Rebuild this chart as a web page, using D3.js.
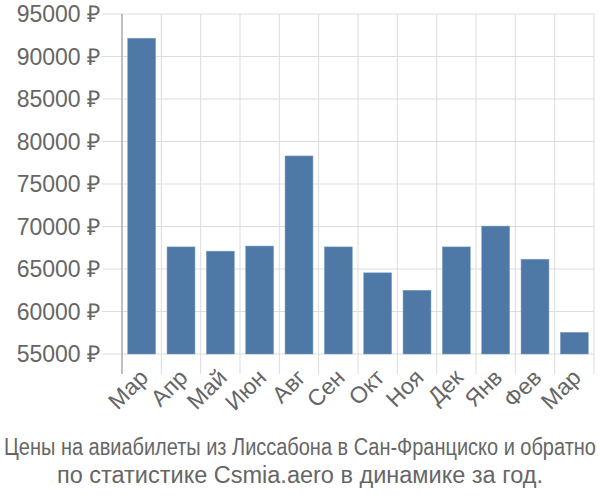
<!DOCTYPE html>
<html><head><meta charset="utf-8">
<script src="https://cdn.jsdelivr.net/npm/d3@7"></script>
<style>body{margin:0;background:#fff}svg{display:block}text{font-family:"Liberation Sans",Arial,sans-serif}</style>
</head><body>
<svg id="c" width="600" height="500"></svg>
<script>
const months = ["Мар","Апр","Май","Июн","Авг","Сен","Окт","Ноя","Дек","Янв","Фев","Мар"];
const prices = [92150,67600,67100,67700,78300,67600,64550,62500,67600,70050,66150,57550];
const yTicks = [55000,60000,65000,70000,75000,80000,85000,90000,95000];
const titleLines = ["Цены на авиабилеты из Лиссабона в Сан-Франциско и обратно","по статистике Csmia.aero в динамике за год."];

const svg = d3.select("#c");
const L=122,R=594,T=14,B=354;
const x = d3.scaleBand().domain(d3.range(months.length)).range([L,R]).paddingInner(0.29).paddingOuter(0.145);
const y = d3.scaleLinear().domain([55000,95000]).range([B,T]);
const gridColor="#dddddd", textColor="#666666";

svg.append("g").selectAll("line").data(yTicks).join("line")
  .attr("x1",L-20).attr("x2",R).attr("y1",d=>y(d)).attr("y2",d=>y(d))
  .attr("stroke",gridColor).attr("stroke-width",1);
const bounds = d3.range(months.length+1).map(i=>L+i*(R-L)/months.length);
svg.append("g").selectAll("line").data(bounds.slice(1)).join("line")
  .attr("x1",d=>d).attr("x2",d=>d).attr("y1",T).attr("y2",B+20)
  .attr("stroke",gridColor).attr("stroke-width",1);
svg.append("line").attr("x1",L).attr("x2",L).attr("y1",T).attr("y2",B+20).attr("stroke","#aaaaaa").attr("stroke-width",1.5);

svg.append("g").selectAll("rect").data(prices).join("rect")
  .attr("x",(d,i)=>x(i)).attr("width",x.bandwidth())
  .attr("y",d=>y(d)).attr("height",d=>B-y(d))
  .attr("fill","#4e79a7").attr("stroke","#7d9ec2").attr("stroke-width",0.5);

svg.append("g").selectAll("text").data(yTicks).join("text")
  .attr("x",100).attr("y",d=>y(d)).attr("dy","0.35em").attr("text-anchor","end")
  .attr("font-size",23).attr("fill",textColor).text(d=>d+" ₽");

svg.append("g").selectAll("text").data(months).join("text")
  .attr("transform",(d,i)=>`translate(${x(i)+x.bandwidth()/2+8},${B+25}) rotate(-45)`)
  .attr("text-anchor","end").attr("font-size",23).attr("fill",textColor).text(d=>d);

const t1 = svg.append("text").attr("text-anchor","middle")
  .attr("font-size",23.5).attr("fill",textColor).text(titleLines[0]);
const w1 = t1.node().getComputedTextLength();
const s1 = Math.min(1, 592 / w1);
t1.attr("transform",`translate(300,455) scale(${s1},1)`);
svg.append("text").attr("x",300).attr("y",483).attr("text-anchor","middle")
  .attr("font-size",23.5).attr("fill",textColor).text(titleLines[1]);
</script>
</body></html>
